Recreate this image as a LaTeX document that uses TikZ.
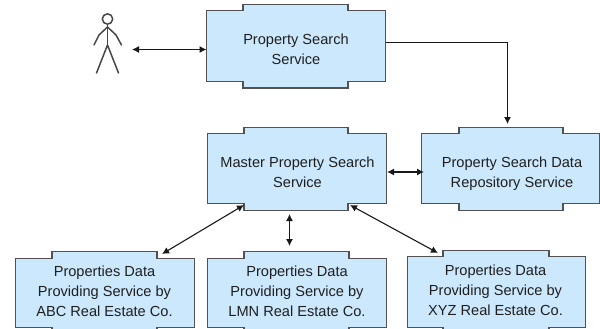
\documentclass[tikz,border=0pt]{standalone}
\usepackage{fontspec}
\setmainfont{Liberation Sans}
\usetikzlibrary{arrows.meta}
\definecolor{svcblue}{HTML}{CCE8FC}
\tikzset{
  x=1pt,y=-1pt,
  svc/.style={draw=black!68,line width=1.1pt,fill=svcblue,line join=miter},
  svclabel/.style={align=center,inner sep=0pt,outer sep=0pt,font=\fontsize{14.6}{20}\selectfont,text=black!88},
  link/.style={draw=black!90,line width=1.1pt,{Latex[length=7pt,width=7pt]}-{Latex[length=7pt,width=7pt]}},
  oneway/.style={draw=black!90,line width=1.1pt,-{Latex[length=7pt,width=7pt]}},
  stick/.style={draw=black!72,line width=1.5pt,line cap=round,line join=round},
  pt/.style={inner sep=0pt,outer sep=0pt}
}
% left, top, shoulder, lower shoulder, bottom, right, notch left, notch right
\newcommand{\svcbox}[8]{%
  \path[svc] (#1,#3) -- (#7,#3) -- (#7,#2) -- (#8,#2) -- (#8,#3) -- (#6,#3) -- (#6,#4) -- (#8,#4) -- (#8,#5) -- (#7,#5) -- (#7,#4) -- (#1,#4) -- cycle;
}
\begin{document}
\begin{tikzpicture}
\useasboundingbox (0,0) rectangle (600,329);
\clip (0,0) rectangle (600,329);
\fill[white] (0,0) rectangle (600,329);
\svcbox{206.5}{4.5}{10.5}{81.5}{88}{385.5}{243}{348}
\svcbox{207.5}{127.5}{133.5}{203.5}{210.5}{386.5}{244}{348}
\svcbox{421.5}{127.5}{133.5}{203.5}{210.5}{599.5}{459}{563}
\svcbox{15.5}{251.5}{258.5}{327.5}{335}{194.5}{52}{157}
\svcbox{207.5}{251.5}{258.5}{327.5}{335}{386.5}{244}{349}
\svcbox{407.5}{250.5}{256.5}{327.5}{335}{585.5}{443}{549}
\node[svclabel,minimum width=179pt,minimum height=66pt] (search) at (296,49.5) {Property Search\\Service};
\node[svclabel,minimum width=179pt,minimum height=66pt] (master) at (297.5,172) {Master Property Search\\Service};
\node[svclabel,minimum width=176pt,minimum height=99pt] (repo) at (512,173.5) {Property Search Data\\Repository Service};
\node[svclabel,minimum width=179pt,minimum height=74pt] (abc) at (104.5,291) {Properties Data\\Providing Service by\\ABC Real Estate Co.};
\node[svclabel,minimum width=179pt,minimum height=90pt] (lmn) at (297,291) {Properties Data\\Providing Service by\\LMN Real Estate Co.};
\node[svclabel,minimum width=178pt,minimum height=75pt] (xyz) at (495.5,290.5) {Properties Data\\Providing Service by\\XYZ Real Estate Co.};
% actor
\node[pt,minimum width=50pt,minimum height=64pt] (actor) at (107,49.5) {};
\draw[stick] (107.5,19) circle (5.2);
\draw[stick] (107.5,24.5) -- (107.5,45);
\draw[stick] (94,45) -- (99,35) -- (107.5,27) -- (116,35) -- (121.5,45);
\draw[stick] (96.5,73) -- (107.5,45) -- (118.5,73);
% connectors
\draw[link] (actor.east) -- (search.west);
\draw[oneway] ([yshift=7pt]search.east) -| ([xshift=-4.5pt]repo.north);
\draw[link] (master.east) -- (master.east -| repo.west);
\draw[link] ([xshift=57.5pt]abc.north) -- ([xshift=-53.5pt]master.south);
\draw[link] ([xshift=-8pt,yshift=-9pt]master.south) -- ([xshift=-7.5pt]lmn.north);
\draw[link] ([xshift=52.5pt]master.south) -- ([xshift=-57.5pt]xyz.north);
\end{tikzpicture}
\end{document}
